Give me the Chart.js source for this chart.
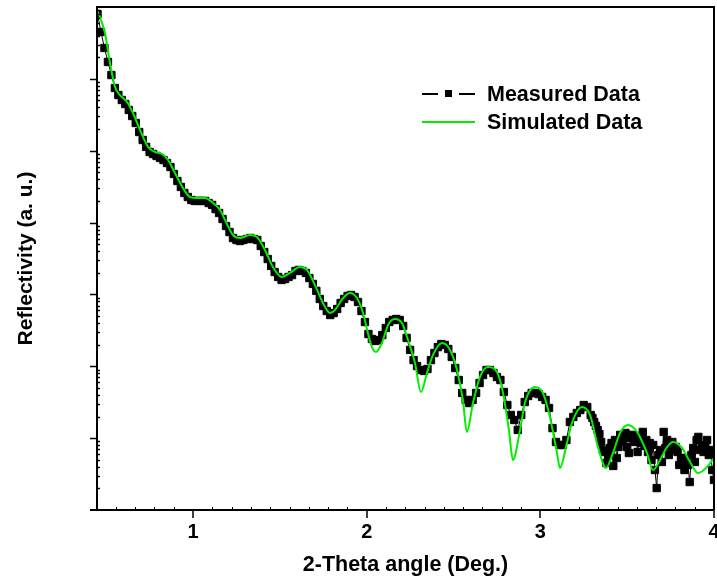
<!DOCTYPE html>
<html><head><meta charset="utf-8">
<script src="https://cdn.jsdelivr.net/npm/chart.js@4.4.1/dist/chart.umd.min.js"></script>
<style>
html,body{margin:0;padding:0;background:#fff;}
#wrap{position:relative;width:717px;height:581px;overflow:hidden;background:#fff;}
canvas{position:absolute;left:0;top:0;}
.lt{position:absolute;font:bold 21.5px "Liberation Sans",Arial,sans-serif;color:#000;white-space:nowrap;line-height:24px;}
.sw{position:absolute;}
</style></head><body>
<div id="wrap"><canvas id="c" width="717" height="581"></canvas>
<div class="sw" style="left:422px;top:93px;width:16px;height:2px;background:#000"></div>
<div class="sw" style="left:445px;top:90px;width:7px;height:7px;background:#000"></div>
<div class="sw" style="left:459px;top:93px;width:16px;height:2px;background:#000"></div>
<div class="lt" style="left:487px;top:82px">Measured Data</div>
<div class="sw" style="left:422px;top:121px;width:53px;height:2px;background:#00ee00"></div>
<div class="lt" style="left:487px;top:110px">Simulated Data</div>
</div>
<script>
const measuredAngle = [
0.45,0.47,0.49,0.51,0.53,0.55,0.57,0.59,0.61,0.63,
0.65,0.67,0.69,0.71,0.73,0.75,0.77,0.79,0.81,0.83,
0.85,0.87,0.89,0.91,0.93,0.95,0.97,0.99,1.01,1.03,
1.05,1.07,1.09,1.11,1.13,1.15,1.17,1.19,1.21,1.23,
1.25,1.27,1.29,1.31,1.33,1.35,1.37,1.39,1.41,1.43,
1.45,1.47,1.49,1.51,1.53,1.55,1.57,1.59,1.61,1.63,
1.65,1.67,1.69,1.71,1.73,1.75,1.77,1.79,1.81,1.83,
1.85,1.87,1.89,1.91,1.93,1.95,1.97,1.99,2.01,2.03,
2.05,2.07,2.09,2.11,2.13,2.15,2.17,2.19,2.21,2.23,
2.25,2.27,2.29,2.31,2.33,2.35,2.37,2.39,2.41,2.43,
2.45,2.47,2.49,2.51,2.53,2.55,2.57,2.59,2.61,2.63,
2.65,2.67,2.69,2.71,2.73,2.75,2.77,2.79,2.81,2.83,
2.85,2.87,2.89,2.91,2.93,2.95,2.97,2.99,3.01,3.03,
3.05,3.07,3.09,3.11,3.13,3.15,3.17,3.19,3.21,3.23,
3.25,3.27,3.29,
3.30,3.31,3.32,3.33,3.34,3.35,3.36,3.37,3.38,3.39,
3.40,3.41,3.42,3.43,3.44,3.45,3.46,3.47,3.48,3.49,
3.50,3.51,3.52,3.53,3.54,3.55,3.56,3.57,3.58,3.59,
3.60,3.61,3.62,3.63,3.64,3.65,3.66,3.67,3.68,3.69,
3.70,3.71,3.72,3.73,3.74,3.75,3.76,3.77,3.78,3.79,
3.80,3.81,3.82,3.83,3.84,3.85,3.86,3.87,3.88,3.89,
3.90,3.91,3.92,3.93,3.94,3.95,3.96,3.97,3.98,3.99,
4.00];
const measuredIntensity = [
7.98e6,4.49e6,2.69e6,1.72e6,1.13e6,7.46e5,5.96e5,5.08e5,4.47e5,3.69e5,
3.04e5,2.43e5,1.82e5,1.41e5,1.13e5,9.6e4,9.0e4,8.44e4,7.92e4,7.42e4,
6.74e4,5.93e4,4.74e4,3.79e4,3.13e4,2.58e4,2.27e4,2.06e4,2.0e4,2.0e4,
2.0e4,2.0e4,1.87e4,1.76e4,1.54e4,1.36e4,1.12e4,8.96e3,7.39e3,6.1e3,
5.72e3,5.54e3,5.72e3,5.9e3,6.1e3,5.9e3,5.72e3,4.72e3,3.89e3,3.11e3,
2.49e3,2.05e3,1.75e3,1.59e3,1.64e3,1.75e3,1.86e3,2.12e3,2.19e3,2.12e3,
1.99e3,1.69e3,1.40e3,1.12e3,864,690,588,517,551,627,
760,864,951,982,921,785,588,413,281,240,
225,232,272,341,413,441,455,441,364,248,
169,122,101,88.8,86,91.7,122,153,185,204,
198,174,135,94.6,64.4,42.5,34,30.8,34,42.5,
58.5,75.6,88.8,88.8,80.6,70.9,64.4,43.9,28.9,21,
17.9,13,21,31.8,38.6,42.5,42.5,41.1,37.4,34,
26.3,13.8,8.84,8.03,8.03,9.42,16.8,19.7,22.4,24.6,
28.9,27.1,21,
19.1,16.8,14.8,13,11.4,8.84,6.84,6.42,4.51,5.83,
7.29,8.56,4.10,9.42,5.29,7.53,11.1,8.84,11.1,11.8,
7.53,6.21,10.0,11.1,8.84,10.7,6.42,10.4,8.56,12.2,
7.78,9.42,6.42,8.56,4.96,8.03,3.60,2.02,5.83,6.84,
4.66,12.2,7.29,9.42,5.83,8.03,8.84,6.84,7.53,6.42,
4.23,5.29,4.66,3.60,5.29,4.23,2.45,5.83,7.29,4.66,
9.42,10.4,6.84,8.03,6.42,8.03,9.42,5.83,6.84,3.60,
2.62];
const simAngle = [0.447,0.47,0.493,0.522,0.551,0.579,0.620,0.654,0.695,0.741,
0.781,0.821,0.856,0.896,0.942,0.983,1.023,1.069,1.109,1.155,
1.184,1.230,1.270,1.328,1.368,1.414,1.460,1.512,1.558,1.615,
1.656,1.702,1.748,1.789,1.817,1.864,1.904,1.944,1.979,2.007,
2.030,2.053,2.088,2.123,2.163,2.203,2.238,2.278,2.313,2.347,
2.382,2.434,2.480,2.520,2.554,2.577,2.612,2.652,2.698,2.750,
2.785,2.819,2.842,2.883,2.911,2.969,3.015,3.055,3.096,3.113,
3.153,3.182,3.240,3.286,3.332,3.378,3.418,3.459,3.505,3.557,
3.614,3.649,3.689,3.730,3.765,3.816,3.862,3.908,3.960,4.0];
const simIntensity = [9.08e6,6.59e6,4.35e6,1.66e6,7.70e5,5.96e5,4.76e5,3.35e5,1.94e5,1.13e5,
9.6e4,9.0e4,7.42e4,4.9e4,3.03e4,2.27e4,2.20e4,2.20e4,1.93e4,1.50e4,
1.09e4,6.71e3,6.10e3,6.71e3,6.30e3,4.15e3,2.41e3,1.75e3,1.99e3,2.41e3,
2.19e3,1.35e3,760,551,607,892,1.05e3,892,551,291,
186,158,211,376,455,400,232,111,43.9,80.6,
144,211,169,88.8,34.0,12.2,30.8,70.9,97.7,83.3,
42.5,13.0,4.96,13.0,30.8,51.5,42.5,19.7,6.21,3.84,
8.56,16.2,27.1,21.0,7.53,3.84,6.21,11.8,15.2,12.2,
6.21,3.60,4.96,7.53,8.84,7.29,4.66,3.27,3.97,5.29];
const xTickValues = [1,2,3,4];
const yDecades = [1,10,100,1e3,1e4,1e5,1e6,1e7];
const xMin = 0.447, xMax = 4, yMin = 1, yMax = 1e7;

const FONT = '"Liberation Sans", Arial, sans-serif';

const framePlugin = {
  id: 'frame',
  afterDraw(chart) {
    const {ctx, chartArea: a, scales: {x, y}} = chart;
    ctx.save();
    ctx.strokeStyle = '#000';
    ctx.lineWidth = 2;
    ctx.beginPath();
    ctx.moveTo(a.left - 7, a.bottom); ctx.lineTo(a.right, a.bottom);
    ctx.moveTo(a.left, a.bottom); ctx.lineTo(a.left, a.top);
    ctx.lineTo(a.right, a.top); ctx.lineTo(a.right, a.bottom);
    ctx.stroke();
    ctx.lineWidth = 1.5;
    ctx.beginPath();
    yDecades.forEach(d => {
      if (d > yMin && d < yMax) {
        const py = Math.round(y.getPixelForValue(d)) + 0.5;
        ctx.moveTo(a.left - 7, py); ctx.lineTo(a.left, py);
      }
      if (d < yMax) {
        for (let m = 2; m <= 9; m++) {
          const py = Math.round(y.getPixelForValue(d * m)) + 0.5;
          ctx.moveTo(a.left, py); ctx.lineTo(a.left + 3, py);
        }
      }
    });
    xTickValues.forEach(v => {
      const px = Math.round(x.getPixelForValue(v));
      ctx.moveTo(px, a.bottom); ctx.lineTo(px, a.bottom + 8);
    });
    ctx.stroke();
    ctx.lineWidth = 1;
    ctx.beginPath();
    for (let k = 0; k < 4; k++) {
      for (let j = 1; j <= 8; j++) {
        const v = k + j / 9;
        if (v <= xMin || v >= xMax) continue;
        const px = Math.round(x.getPixelForValue(v)) + 0.5;
        ctx.moveTo(px, a.bottom); ctx.lineTo(px, a.bottom - 3);
      }
    }
    ctx.stroke();
    ctx.restore();
  }
};

const chart = new Chart(document.getElementById('c'), {
  type: 'scatter',
  data: {
    datasets: [
      {
        label: 'Simulated Data',
        data: simAngle.map((v, i) => ({x: v, y: simIntensity[i]})),
        showLine: true,
        borderColor: '#00ee00',
        borderWidth: 2,
        pointRadius: 0,
        cubicInterpolationMode: 'monotone',
        order: 0
      },
      {
        label: 'Measured Data',
        data: measuredAngle.map((v, i) => ({x: v, y: measuredIntensity[i]})),
        showLine: true,
        borderColor: '#000',
        borderWidth: 1,
        backgroundColor: '#000',
        pointStyle: 'rect',
        pointRadius: 5.2,
        pointBorderWidth: 1,
        pointBorderColor: '#000',
        pointBackgroundColor: '#000',
        tension: 0,
        order: 1
      }
    ]
  },
  options: {
    responsive: false,
    animation: false,
    devicePixelRatio: 1,
    layout: {autoPadding: false, padding: {top: 7, right: 3, left: 0, bottom: 0}},
    plugins: {legend: {display: false}, tooltip: {enabled: false}},
    scales: {
      x: {
        type: 'linear', min: xMin, max: xMax,
        grid: {display: false, drawTicks: false, tickLength: 0},
        border: {display: false},
        afterBuildTicks: s => { s.ticks = xTickValues.map(v => ({value: v})); },
        ticks: {
          color: '#000', padding: 10, maxRotation: 0, autoSkip: false,
          font: {family: FONT, size: 20, weight: 'bold'},
          callback: v => String(v)
        },
        title: {
          display: true, text: '2-Theta angle (Deg.)', color: '#000',
          font: {family: FONT, size: 21.5, weight: 'bold'},
          padding: {top: 0, bottom: 3}
        },
        afterFit: s => { s.height = 71; s.paddingLeft = 0; s.paddingRight = 0; }
      },
      y: {
        type: 'logarithmic', min: yMin, max: yMax,
        grid: {display: false, drawTicks: false, tickLength: 0},
        border: {display: false},
        ticks: {display: false},
        title: {
          display: true, text: 'Reflectivity (a. u.)', color: '#000',
          font: {family: FONT, size: 21, weight: 'bold'},
          padding: {top: 14, bottom: 0}
        },
        afterFit: s => { s.width = 97; s.paddingTop = 0; s.paddingBottom = 0; }
      }
    }
  },
  plugins: [framePlugin]
});
const targetRight = 714;
const diffRight = chart.chartArea.right - targetRight;
if (Math.abs(diffRight) > 0.5) {
  chart.options.layout.padding.right = Math.max(0, 3 + diffRight);
  chart.update();
}
</script>
</body></html>
